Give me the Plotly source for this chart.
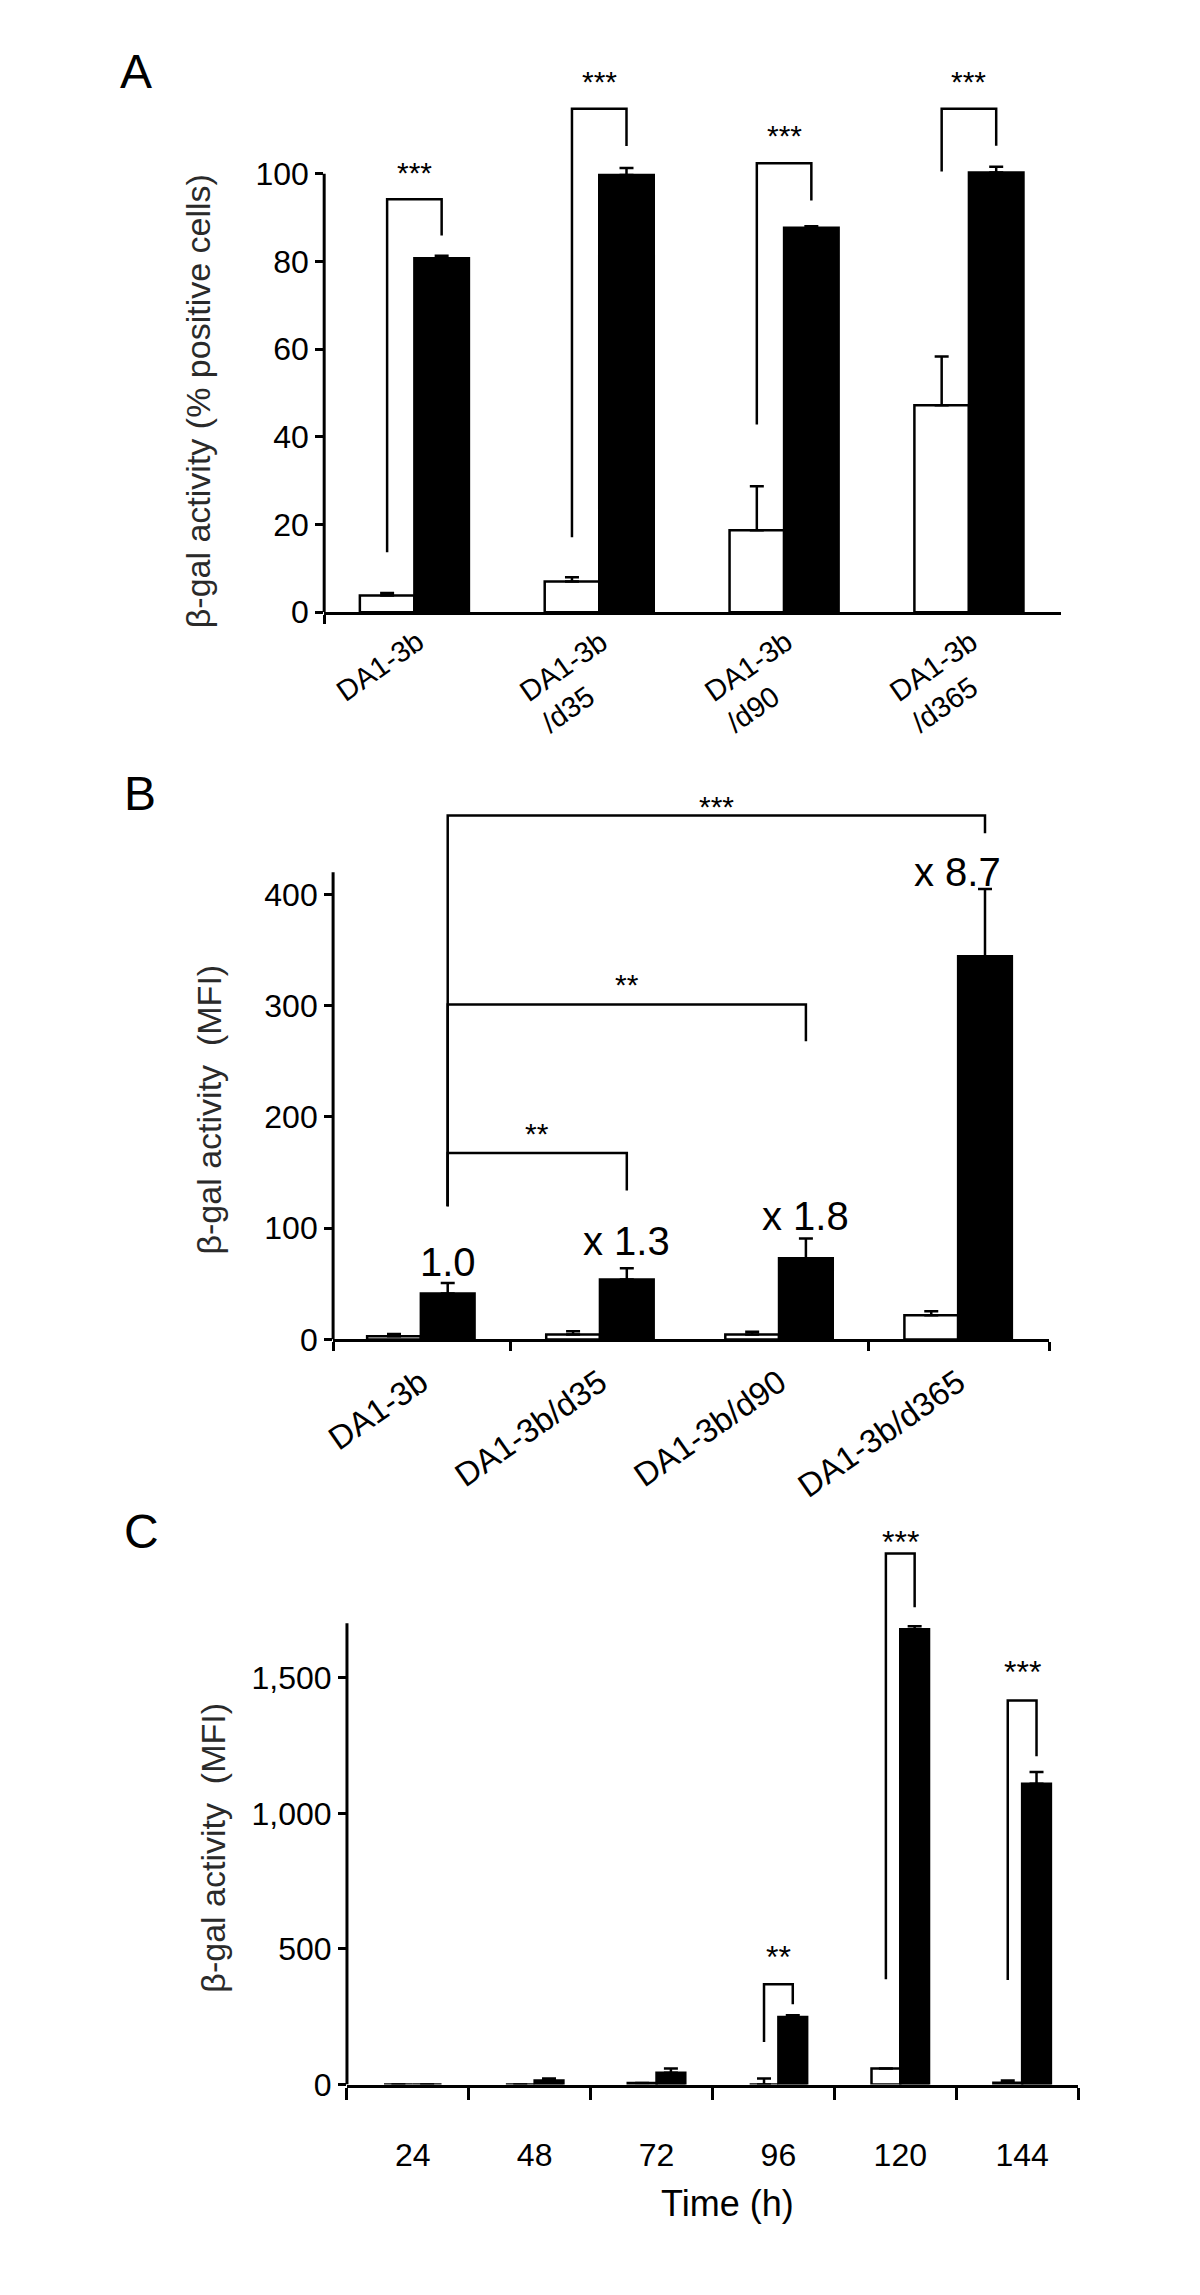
import plotly.graph_objects as go

W, H = 1200, 2295
FONT = "Liberation Sans, Arial, sans-serif"

# ---------------- Panel A data ----------------
a_labels = ["DA1-3b", "DA1-3b<br>/d35", "DA1-3b<br>/d90", "DA1-3b<br>/d365"]
a_white = [3.8, 7.0, 18.7, 47.2]
a_white_err = [0.6, 1.0, 10.0, 11.1]
a_black = [80.7, 99.7, 87.7, 100.3]
a_black_err = [0.6, 1.6, 0.3, 1.3]
a_yticks = [0, 20, 40, 60, 80, 100]
a_br_top = [94.2, 114.8, 102.4, 114.8]
a_br_left = [13.7, 17.1, 42.8, 100.5]
a_br_right = [85.9, 106.3, 93.9, 106.4]
a_star_y = [100.3, 121.0, 108.6, 121.0]
a_star_txt = ["***", "***", "***", "***"]

# ---------------- Panel B data ----------------
b_labels = ["DA1-3b", "DA1-3b/d35", "DA1-3b/d90", "DA1-3b/d365"]
b_white = [3.0, 4.5, 4.5, 21.8]
b_white_err = [2.0, 3.0, 2.5, 3.6]
b_black = [41.4, 53.8, 73.0, 344.4]
b_black_err = [9.3, 10.2, 17.8, 60.6]
b_fold = ["1.0", "x 1.3", "x 1.8", "x 8.7"]
b_fold_y = [70, 88.5, 111, 420.5]
b_yticks = [0, 100, 200, 300, 400]
b_br_to = [1, 2, 3]
b_br_top = [167.7, 301.0, 471.0]
b_br_right = [134.0, 268.0, 455.0]
b_br_left_bottom = 119.7
b_star_y = [185.5, 319.0, 479.0]
b_star_txt = ["**", "**", "***"]

# ---------------- Panel C data ----------------
c_labels = ["24", "48", "72", "96", "120", "144"]
c_white = [0, 0, 6, 0, 59, 7]
c_white_err = [0, 0, 0, 22, 0, 8]
c_black = [0, 15, 44, 249, 1679, 1109]
c_black_err = [0, 7, 15, 7, 11, 44]
c_yticks = [0, 500, 1000, 1500]
c_yticktext = ["0", "500", "1,000", "1,500"]
c_br_group = [3, 4, 5]
c_br_top = [370, 1958, 1416]
c_br_left = [157, 388, 386]
c_br_right = [296, 1760, 1211]
c_star_y = [472, 2001, 1522]
c_star_txt = ["**", "***", "***"]

# ---------------- layout geometry (pixels) ----------------
def xd(l, r):
    return [l / W, r / W]

def yd(top, bottom):
    return [1 - bottom / H, 1 - top / H]

# A
A_y0, A_y100 = 609, 167
A_scale = (A_y0 - A_y100) / 100
A_ymax = 125
A_top = A_y0 - A_ymax * A_scale
A_w = 0.295
A_range = [-0.488, 3.5]
# B
B_y0, B_y400 = 1342, 893.5
B_scale = (B_y0 - B_y400) / 400
B_ymax = 490
B_top = B_y0 - B_ymax * B_scale
B_w = 0.30
B_range = [-0.49, 3.51]
# C
C_y0, C_y1500 = 2093, 1683
C_scale = (C_y0 - C_y1500) / 1500
C_ymax = 2050
C_top = C_y0 - C_ymax * C_scale
C_w = 0.236
C_range = [-0.54, 5.46]

fig = go.Figure()

def add_pair(xa, ya, n, white, werr, black, berr, w):
    xs = list(range(n))
    fig.add_trace(go.Bar(
        x=xs, y=white, width=w, offset=-w,
        marker=dict(color="white", line=dict(color="black", width=2.5)),
        error_y=dict(type="data", symmetric=False, array=werr, arrayminus=[0] * n,
                     color="black", thickness=2.5, width=7),
        xaxis=xa, yaxis=ya, showlegend=False, hoverinfo="skip"))
    fig.add_trace(go.Bar(
        x=xs, y=black, width=w, offset=0,
        marker=dict(color="black", line=dict(color="black", width=2.5)),
        error_y=dict(type="data", symmetric=False, array=berr, arrayminus=[0] * n,
                     color="black", thickness=2.5, width=7),
        xaxis=xa, yaxis=ya, showlegend=False, hoverinfo="skip"))

add_pair("x", "y", 4, a_white, a_white_err, a_black, a_black_err, A_w)
add_pair("x2", "y2", 4, b_white, b_white_err, b_black, b_black_err, B_w)
add_pair("x3", "y3", 6, c_white, c_white_err, c_black, c_black_err, C_w)

shapes = []
annotations = []
LW = 2.5

def bracket(xref, yref, xl, xr, ytop, ylb, yrb):
    shapes.append(dict(type="path", xref=xref, yref=yref,
                       path=f"M {xl},{ylb} L {xl},{ytop} L {xr},{ytop} L {xr},{yrb}",
                       line=dict(color="black", width=LW)))

def stars(xref, yref, x, y, txt, fs):
    annotations.append(dict(xref=xref, yref=yref, x=x, y=y, text=txt, showarrow=False,
                            xanchor="center", yanchor="middle", yshift=0,
                            font=dict(family=FONT, size=fs, color="black")))

# A brackets
for k in range(4):
    xl = k - A_w / 2
    xr = k + A_w / 2
    bracket("x", "y", xl, xr, a_br_top[k], a_br_left[k], a_br_right[k])
    stars("x", "y", k, a_star_y[k], a_star_txt[k], 30)

# B brackets
for i, k in enumerate(b_br_to):
    xl = 0 + B_w / 2
    xr = k + B_w / 2
    bracket("x2", "y2", xl, xr, b_br_top[i], b_br_left_bottom, b_br_right[i])
    stars("x2", "y2", (xl + xr) / 2, b_star_y[i], b_star_txt[i], 30)

# C brackets
for i, k in enumerate(c_br_group):
    xl = k - C_w / 2
    xr = k + C_w / 2
    bracket("x3", "y3", xl, xr, c_br_top[i], c_br_left[i], c_br_right[i])
    stars("x3", "y3", k, c_star_y[i], c_star_txt[i], 32)

# y axis lines (limited to data height)
for xr_, yr_, top in [("x", "y", 100), ("x2", "y2", 420), ("x3", "y3", 1701)]:
    shapes.append(dict(type="line", xref=f"{xr_} domain", yref=yr_, x0=0, x1=0, y0=0, y1=top,
                       line=dict(color="black", width=3)))

# B fold-change labels
b_fold_shift = [0, 0, 0, -27]
for k in range(4):
    annotations.append(dict(xref="x2", yref="y2", x=k + B_w / 2, y=b_fold_y[k], text=b_fold[k],
                            showarrow=False, xanchor="center", yanchor="middle",
                            xshift=b_fold_shift[k],
                            font=dict(family=FONT, size=40, color="black")))

# A x labels (left aligned, rotated)
for k, lab in enumerate(a_labels):
    two = "<br>" in lab
    annotations.append(dict(xref="x", yref="y", x=k, y=0, text=lab, showarrow=False,
                            textangle=-35, align="left", xanchor="right", yanchor="top",
                            xshift=38 if two else 18, yshift=-10,
                            font=dict(family=FONT, size=29, color="black")))

# panel letters
for txt, px, py in [("A", 100, 64), ("B", 104, 792), ("C", 104, 1536)]:
    annotations.append(dict(xref="paper", yref="paper", x=px / W, y=1 - py / H, text=txt,
                            showarrow=False, xanchor="left", yanchor="middle",
                            font=dict(family=FONT, size=48, color="black")))

# y titles
TCOL = "#2a2a2a"
for txt, px, py in [("β-gal activity (% positive cells)", 181, 396),
                    ("β-gal activity \u00a0(MFI)", 192, 1110),
                    ("β-gal activity \u00a0(MFI)", 196, 1854)]:
    annotations.append(dict(xref="paper", yref="paper", x=px / W, y=1 - py / H, text=txt,
                            showarrow=False, textangle=-90, xanchor="center", yanchor="middle",
                            font=dict(family=FONT, size=34, color=TCOL)))

annotations.append(dict(xref="paper", yref="paper", x=715 / W, y=1 - 2213 / H, text="Time (h)",
                        showarrow=False, xanchor="center", yanchor="middle",
                        font=dict(family=FONT, size=36, color="black")))

common_y = dict(showgrid=False, zeroline=False, showline=False, ticks="outside", ticklen=8,
                tickwidth=3, tickcolor="black", tickfont=dict(family=FONT, size=32, color="black"),
                tickmode="array")
common_x = dict(showgrid=False, zeroline=False, showline=True, linewidth=3, linecolor="black",
                tickmode="array")

fig.update_layout(
    width=W, height=H, margin=dict(l=0, r=0, t=0, b=0),
    paper_bgcolor="white", plot_bgcolor="white",
    barmode="overlay", showlegend=False,
    font=dict(family=FONT, color="black"),
    xaxis=dict(domain=xd(308, 1052), range=A_range, anchor="y", tickvals=[], ticks="",
               showticklabels=False,
               minor=dict(tickmode="array", tickvals=[A_range[0] + 0.001], ticks="outside",
                          ticklen=9, tickwidth=3, tickcolor="black", showgrid=False),
               **common_x),
    yaxis=dict(domain=yd(A_top, A_y0), range=[0, A_ymax], anchor="x", tickvals=a_yticks,
               **common_y),
    xaxis2=dict(domain=xd(317, 1040), range=B_range, anchor="y2", tickvals=[0, 1, 2, 3],
                ticktext=b_labels, ticks="", tickangle=-35, ticklabelstandoff=8,
                tickfont=dict(family=FONT, size=33, color="black"),
                minor=dict(tickmode="array",
                           tickvals=[B_range[0] + 0.001, 0.5, 2.5, B_range[1] - 0.001],
                           ticks="outside", ticklen=9, tickwidth=3, tickcolor="black",
                           showgrid=False),
                **common_x),
    yaxis2=dict(domain=yd(B_top, B_y0), range=[0, B_ymax], anchor="x2", tickvals=b_yticks,
                **common_y),
    xaxis3=dict(domain=xd(331, 1069), range=C_range, anchor="y3", tickvals=list(range(6)),
                ticktext=c_labels, ticks="", ticklabelstandoff=40,
                tickfont=dict(family=FONT, size=32, color="black"),
                minor=dict(tickmode="array",
                           tickvals=[C_range[0] + k for k in range(7)],
                           ticks="outside", ticklen=12, tickwidth=3, tickcolor="black",
                           showgrid=False),
                **common_x),
    yaxis3=dict(domain=yd(C_top, C_y0), range=[0, C_ymax], anchor="x3", tickvals=c_yticks,
                ticktext=c_yticktext, **common_y),
    shapes=shapes, annotations=annotations,
)

fig.write_html("out.html")
